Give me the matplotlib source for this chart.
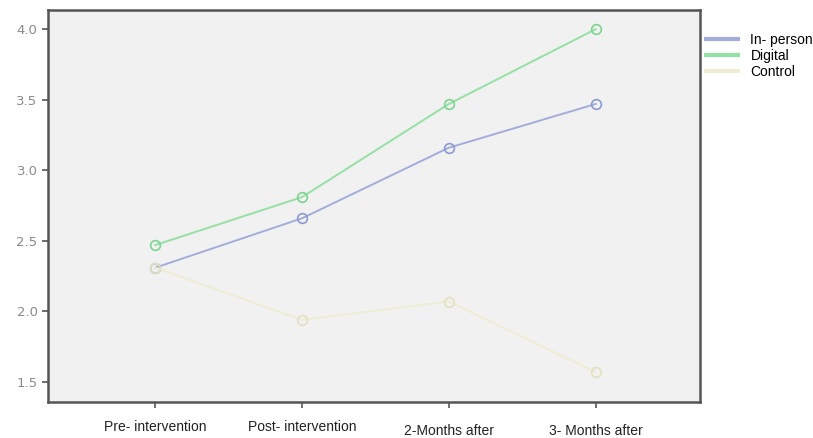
import matplotlib
matplotlib.use("Agg")
import matplotlib.pyplot as plt

# values
stages = ["Pre- intervention", "Post- intervention", "2-Months after", "3- Months after"]
in_person = [2.31, 2.66, 3.16, 3.47]
digital = [2.47, 2.81, 3.47, 4.00]
control = [2.31, 1.94, 2.07, 1.57]
yticks = [1.5, 2.0, 2.5, 3.0, 3.5, 4.0]

fig = plt.figure(figsize=(8.13, 4.38), dpi=100)
ax = fig.add_axes([0.059, 0.082, 0.802, 0.895])
ax.set_facecolor("#f1f1f1")

x = range(len(stages))
ax.plot(x, in_person, color="#a3addb", lw=1.4, marker="o", ms=7,
        mfc="none", mec="#8d9ad2", mew=1.2, label="In- person")
ax.plot(x, digital, color="#95e0a5", lw=1.4, marker="o", ms=7,
        mfc="none", mec="#7dd491", mew=1.2, label="Digital")
ax.plot(x, control, color="#eeecd3", lw=1.4, marker="o", ms=7,
        mfc="none", mec="#e2e0c0", mew=1.2, label="Control")

ax.set_xlim(-0.73, 3.71)
ax.set_ylim(1.358, 4.135)
ax.set_yticks(yticks)
ax.set_yticklabels([f"{v:.1f}" for v in yticks], color="#8a8a8a", fontsize=9.5)
ax.set_xticks(list(x))
ax.set_xticklabels([])
for i, s in enumerate(stages):
    off = 0.0 if i < 2 else 0.012
    ax.text(i, -0.045 - off, s, transform=ax.get_xaxis_transform(),
            ha="center", va="top", fontsize=10, color="#222222",
            family="Liberation Sans")

for sp in ax.spines.values():
    sp.set_color("#555555")
    sp.set_linewidth(1.8)
ax.tick_params(axis="both", direction="out", length=4, width=1.2, color="#555555")

leg = ax.legend(loc="upper left", bbox_to_anchor=(0.99, 0.973), frameon=False,
                handlelength=2.3, handletextpad=0.9, labelspacing=0.15,
                prop={"family": "Liberation Sans", "size": 10})
for h in leg.get_lines():
    h.set_marker("")
    h.set_linewidth(3)

fig.savefig("out.png", dpi=100)
